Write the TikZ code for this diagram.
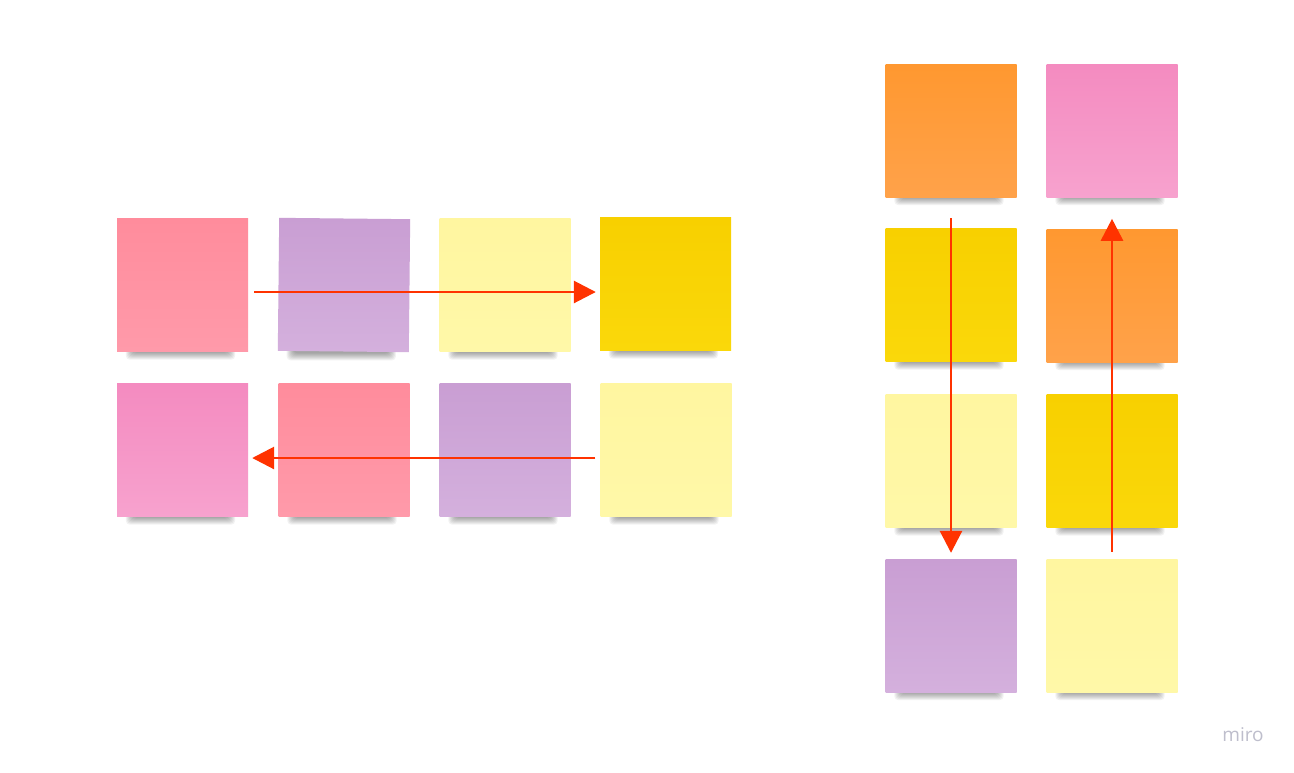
\documentclass[tikz,border=0pt]{standalone}
\usepackage{fontspec}
\newfontfamily\logofont{Open Sans}
\usetikzlibrary{arrows.meta}
\pgfdeclarelayer{paper}
\pgfdeclarelayer{background}
\pgfsetlayers{paper,background,main}
\definecolor{cpink}{HTML}{FF8C9C}
\definecolor{cpinkb}{HTML}{FF9AAA}
\definecolor{cpurple}{HTML}{C99ED3}
\definecolor{cpurpleb}{HTML}{D4B0DD}
\definecolor{clyellow}{HTML}{FFF6A0}
\definecolor{clyellowb}{HTML}{FFF8A8}
\definecolor{cyellow}{HTML}{F8D000}
\definecolor{cyellowb}{HTML}{FAD80A}
\definecolor{corange}{HTML}{FF9830}
\definecolor{corangeb}{HTML}{FFA24A}
\definecolor{cmag}{HTML}{F48BC0}
\definecolor{cmagb}{HTML}{F7A2CE}
\definecolor{carrow}{HTML}{FF3300}
\definecolor{clogo}{HTML}{BEBECC}
\tikzset{
  note/.style 2 args={minimum width=131pt, minimum height=133pt, inner sep=0pt,
    top color=#1, bottom color=#2},
  pinknote/.style={note={cpink}{cpinkb}},
  purplenote/.style={note={cpurple}{cpurpleb}},
  lynote/.style={note={clyellow}{clyellowb}},
  ynote/.style={note={cyellow}{cyellowb}},
  onote/.style={note={corange}{corangeb}},
  mnote/.style={note={cmag}{cmagb}},
  shade layer/.style={fill=black, opacity=0.05, rounded corners=4pt},
  flow/.style={draw=carrow, line width=2.8pt, -{Triangle[length=22pt,width=22pt]}},
  logo/.style={text=clogo, font=\logofont\fontsize{19}{22}\selectfont}
}
\begin{document}
\begin{tikzpicture}[x=1pt,y=-1pt]
\begin{pgfonlayer}{paper}
\fill[white] (0,0) rectangle (1294,772);
\end{pgfonlayer}
\useasboundingbox (0,0) rectangle (1294,772);
% left group, row 1
\node[pinknote]   (a1) at (182.5,285) {};
\node[purplenote, rotate=-0.6] (a2) at (344,285) {};
\node[lynote]     (a3) at (505,285) {};
\node[ynote]      (a4) at (665.5,284) {};
% left group, row 2
\node[mnote]      (b1) at (182.5,450) {};
\node[pinknote]   (b2) at (344,450) {};
\node[purplenote] (b3) at (505,450) {};
\node[lynote]     (b4) at (666,450) {};
% right group
\node[onote]      (c1) at (951,130.5) {};
\node[ynote]      (c2) at (951,295) {};
\node[lynote]     (c3) at (951,461) {};
\node[purplenote] (c4) at (951,625.5) {};
\node[mnote]      (d1) at (1112,130.5) {};
\node[onote]      (d2) at (1112,295.5) {};
\node[ynote]      (d3) at (1112,461) {};
\node[lynote]     (d4) at (1112,625.5) {};
% shadows
\begin{pgfonlayer}{background}
\foreach \n in {a1,a2,a3,a4,b1,b2,b3,b4,c1,c2,c3,c4,d1,d2,d3,d4}{
  \foreach \i in {0,...,7}{
    \fill[shade layer] ([xshift={(16-\i)*1pt},yshift=6pt]\n.south west)
      rectangle ([xshift={(-20+\i)*1pt},yshift={(-1-\i)*1pt}]\n.south east);
  }
}
\end{pgfonlayer}
% arrows
\draw[flow] ([xshift=6pt,yshift=-7pt]a1.east) -- ([xshift=-4pt,yshift=-8pt]a4.west);
\draw[flow] ([xshift=-5pt,yshift=-8pt]b4.west) -- ([xshift=4pt,yshift=-8pt]b1.east);
\draw[flow] ([yshift=10pt]c2.north) -- ([yshift=6pt]c4.north);
\draw[flow] ([yshift=7pt]d4.north) -- ([yshift=10pt]d2.north);
% logo
\node[logo] (logo) at (1243,735) {miro};
\end{tikzpicture}
\end{document}
